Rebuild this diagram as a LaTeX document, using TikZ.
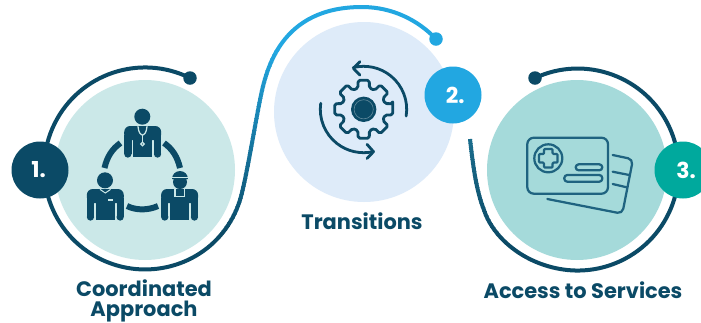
\documentclass[tikz,border=0pt]{standalone}
\usepackage{fontspec}
\setmainfont{Poppins}[BoldFont={Poppins Bold}]
\definecolor{navy}{HTML}{0B4A66}
\definecolor{sky}{HTML}{22A7E1}
\definecolor{midblue}{HTML}{1B6E8E}
\definecolor{teal3}{HTML}{00A99D}
\definecolor{fillA}{HTML}{CBE8E8}
\definecolor{fillB}{HTML}{DEEBF9}
\definecolor{fillC}{HTML}{A5DADA}
\definecolor{cardline}{HTML}{1F6380}
\tikzset{
  x=0.02cm,y=-0.02cm,
  disc/.style={circle,inner sep=0pt,minimum size=180*0.02cm,fill=#1},
  badge/.style={circle,inner sep=0pt,minimum size=57*0.02cm,fill=#1,text=white,font=\bfseries\fontsize{12.5}{13}\selectfont},
  enddot/.style={circle,inner sep=0pt,minimum size=13.5*0.02cm,fill=#1},
  ringline/.style={line width=0.08cm},
  caption/.style={text=navy,align=center,inner sep=0pt,font=\bfseries\fontsize{11.9}{11.3}\selectfont},
  icon/.style={draw=navy,line width=0.056cm,line cap=round,line join=round},
  cardstroke/.style={draw=cardline,line width=0.045cm,line cap=round,line join=round},
}
\newcommand{\myperson}[2]{%
  \begin{scope}[shift={(#1,#2)}]
    \fill[navy,rounded corners=0.12cm] (-18.5,14) -- (-18.5,0) -- (18.5,0) -- (18.5,14) -- cycle;
    \fill[navy] (-9.7,5) rectangle (9.7,31);
    \fill[navy] (-18.5,9) rectangle (-11.2,28);
    \fill[navy] (11.2,9) rectangle (18.5,28);
    \fill[navy] (-14.85,28) circle[radius=3.65];
    \fill[navy] (14.85,28) circle[radius=3.65];
  \end{scope}}
\begin{document}
\begin{tikzpicture}
\useasboundingbox (0,0) rectangle (701,322);
\fill[white] (0,0) rectangle (701,322);
% discs
\node[disc=fillA] (discA) at (145,170) {};
\node[disc=fillB] (discB) at (364,112) {};
\node[disc=fillC] (discC) at (577,170) {};
% end dots
\node[enddot=navy] (dotA) at (190,78) {};
\node[enddot=sky] (dotB) at (436,39) {};
\node[enddot=navy] (dotC) at (535,78) {};
% connector 1
\def\pathA{(dotA.center) arc[start angle=-63.6,end angle=-285,radius=101]
  .. controls (205,257) and (230,232) .. (240,200)
  .. controls (246,180) and (254,130) .. (260,100)
  .. controls (266,70) and (280,7) .. (362,7)
  .. controls (392,7) and (418,20) .. (dotB.center)}
\begin{scope}
  \clip (0,0) rectangle (200,322) (200,230) rectangle (300,322);
  \draw[ringline,navy] \pathA;
\end{scope}
\begin{scope}
  \clip (200,0) rectangle (460,51);
  \draw[ringline,sky] \pathA;
\end{scope}
\foreach \i in {0,...,44}{
  \pgfmathsetmacro{\ytop}{50+4*\i}
  \pgfmathsetmacro{\ybot}{\ytop+4.6}
  \pgfmathtruncatemacro{\pct}{100-\i*100/45}
  \begin{scope}
    \clip (200,\ytop) rectangle (300,\ybot);
    \draw[ringline,draw=sky!\pct!navy] \pathA;
  \end{scope}
}
% connector 3
\coordinate (endC) at (470,139);
\def\pathC{(dotC.center) arc[start angle=-115,end angle=100,radius=101]
  .. controls (520,262) and (492,235) .. (484,210)
  .. controls (476,190) and (473,165) .. (endC)}
\begin{scope}
  \clip (500,0) rectangle (701,322) (440,240) rectangle (500,322);
  \draw[ringline,navy] \pathC;
\end{scope}
\foreach \i in {0,...,25}{
  \pgfmathsetmacro{\ytop}{135+4*\i}
  \pgfmathsetmacro{\ybot}{\ytop+4.6}
  \pgfmathtruncatemacro{\pct}{100-\i*100/26}
  \begin{scope}
    \clip (440,\ytop) rectangle (500,\ybot);
    \draw[ringline,draw=midblue!\pct!navy] \pathC;
  \end{scope}
}
% badges
\node[badge=navy] (badgeA) at (40,170) {\hspace{-1.5pt}1.};
\node[badge=sky] (badgeB) at (453,95) {\hspace{2.5pt}2.};
\node[badge=teal3] (badgeC) at (683,170) {\hspace{3.5pt}3.};
% captions
\node[caption] (capA) at (144,300.5) {Coordinated\\Approach};
\node[caption] (capB) at (362,221) {Transitions};
\node[caption] (capC) at (583,290) {Access to Services};
% icon 1: team
\fill[navy] (142.3,116.7) circle[radius=8];
\myperson{142.7}{126}
\draw[fillA,line width=0.025cm,line cap=round] (138,126.5) .. controls (138.5,133) and (141,135) .. (142.5,135) .. controls (144,135) and (146.5,133) .. (147,126.5);
\draw[fillA,line width=0.025cm] (142.5,135) -- (142.5,142);
\draw[fillA,line width=0.025cm] (142.5,144) circle[radius=1.7];
\fill[navy] (105,180.3) circle[radius=8];
\myperson{105.3}{189}
\draw[fillA,line width=0.02cm] (100,189.4) -- (105.3,193) -- (110.6,189.4);
\draw[fillA,line width=0.025cm] (108,200) -- (112.5,200);
\fill[navy] (180,182) circle[radius=7];
\fill[navy] (172,179) arc[start angle=180,end angle=360,radius=8] -- cycle;
\draw[fillA,line width=0.025cm] (170.5,177.8) -- (189.5,177.8);
\myperson{179.6}{189}
\draw[fillA,line width=0.03cm] (174.8,189) -- (174.8,197) (184.4,189) -- (184.4,197) (174.8,196.5) -- (184.4,196.5);
\draw[navy,line width=0.12cm] (104.5,168) .. controls (107,157) and (112,149) .. (120.5,143);
\draw[navy,line width=0.12cm] (164,143) .. controls (172.5,149) and (177.5,157) .. (180,168);
\draw[navy,line width=0.12cm] (127,206) .. controls (136,210.5) and (148,210.5) .. (158,206);
% icon 2: gear
\begin{scope}[shift={(363.7,109.3)}]
  \fill[navy] (0,0) circle[radius=12.7];
  \draw[white,opacity=.35,line width=0.012cm] (0,0) circle[radius=9.6];
  \draw[icon,rounded corners=0.035cm]
    (-11:29.5)
    \foreach \a in {0,45,...,315}{
      -- (\a-11:29.5) -- (\a+11:29.5) -- (\a+15:22) -- (\a+30:22)
    } -- cycle;
  \draw[icon] (9:43) arc[start angle=9,end angle=-104,radius=43];
  \draw[icon] (-3.7,-34.2) -- (-10.4,-41) -- (-3.7,-47.6);
  \draw[icon] (188:43.4) arc[start angle=188,end angle=77,radius=43.4];
  \draw[icon] (3.3,35) -- (9.8,42.4) -- (3.3,49.2);
\end{scope}
% icon 3: cards
\draw[cardstroke,rounded corners=0.13cm] (527.3,137.7) rectangle (608,193.7);
\draw[cardstroke] (548.3,158.3) circle[radius=14];
\draw[cardstroke,rounded corners=0.02cm] (544,149) -- (552.6,149) -- (552.6,154) -- (557.6,154) -- (557.6,162.6) -- (552.6,162.6) -- (552.6,167.6) -- (544,167.6) -- (544,162.6) -- (539,162.6) -- (539,154) -- (544,154) -- cycle;
\draw[cardstroke,rounded corners=0.06cm] (575.7,164.3) rectangle (602.3,170.3);
\draw[cardstroke,rounded corners=0.06cm] (564.3,175) rectangle (602.3,181.7);
\draw[cardstroke,rounded corners=0.1cm] (612.7,155) -- (633,159.3) -- (622.3,213.7) -- (547.3,199);
\draw[cardstroke] (612.7,171.7) -- (629.3,175);
\draw[cardstroke] (612.7,184) -- (626.7,187.3);
\end{tikzpicture}
\end{document}
